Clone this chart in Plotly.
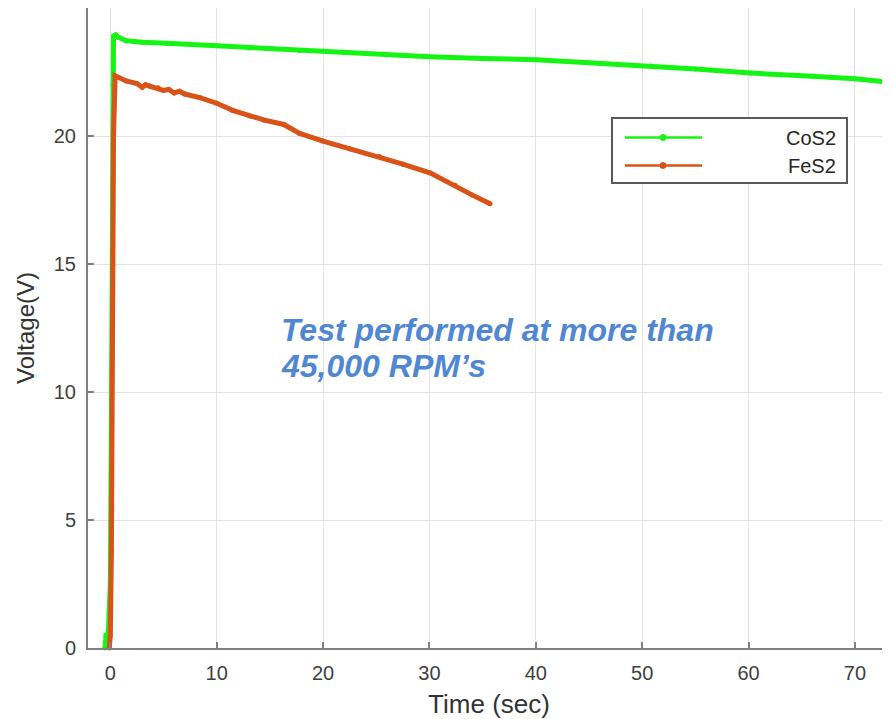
import plotly.graph_objects as go

# ---- data ----
cos2_t = [-0.5, -0.4, -0.2, 0.0, 0.1, 0.2, 0.25, 0.3, 0.5, 0.8, 1.5, 3.0, 5.3, 7.5, 10.0,
          13.0, 17.8, 22.0, 26.0, 30.0, 35.0, 40.0, 45.0, 50.8, 55.0, 60.2, 63.0, 66.0,
          70.0, 73.3]
cos2_v = [0.0, 0.5, 0.5, 2.5, 9.0, 16.0, 22.0, 23.9, 23.95, 23.85, 23.72, 23.66, 23.62,
          23.57, 23.53, 23.44, 23.34, 23.25, 23.17, 23.10, 23.03, 22.98, 22.86, 22.73,
          22.62, 22.46, 22.38, 22.33, 22.24, 22.10]

fes2_t = [-0.1, 0.0, 0.1, 0.2, 0.3, 0.45, 0.8, 1.5, 2.5, 3.0, 3.3, 3.7, 4.5, 5.0, 5.5, 6.0,
          6.5, 7.0, 8.4, 10.0, 11.5, 13.1, 14.5, 16.3, 17.8, 20.0, 22.5, 25.3, 27.5,
          30.1, 32.4, 34.0, 35.7]
fes2_v = [0.0, 0.5, 3.8, 12.0, 20.0, 22.35, 22.28, 22.15, 22.05, 21.9, 22.0, 21.95, 21.88,
          21.78, 21.82, 21.68, 21.75, 21.64, 21.5, 21.28, 21.0, 20.78, 20.62, 20.45,
          20.1, 19.8, 19.5, 19.2, 18.9, 18.55, 18.08, 17.7, 17.35]

series_names = ["CoS2", "FeS2"]
series_colors = ["#14F514", "#D95319"]

xticks = [0, 10, 20, 30, 40, 50, 60, 70]
yticks = [0, 5, 10, 15, 20]

FONT = "Arial, Liberation Sans, Helvetica, sans-serif"

fig = go.Figure()
for t, v, name, col in [(cos2_t, cos2_v, series_names[0], series_colors[0]),
                        (fes2_t, fes2_v, series_names[1], series_colors[1])]:
    fig.add_trace(go.Scatter(x=t, y=v, name=name, mode="lines+markers",
                             line=dict(color=col, width=5),
                             marker=dict(color=col, size=5),
                             showlegend=False, cliponaxis=False))

# page has an 8px body margin: figure sits at (8, 8) in the window
OFF = 8
W, H = 890 - OFF, 719 - OFF
# plot-area in page pixels
L, R, T, B = 88, 890, 8, 648
def px(x):
    return (x - L) / (R - L)
def py(y):
    return (B - y) / (B - T)

shapes = [dict(type="rect", xref="paper", yref="paper",
               x0=px(612), x1=px(847), y0=py(183), y1=py(118),
               line=dict(color="#5a5a5a", width=2), fillcolor="white", layer="above")]
annotations = []
for i, (name, col) in enumerate(zip(series_names, series_colors)):
    yy = [137.5, 165.5][i]
    shapes.append(dict(type="line", xref="paper", yref="paper",
                       x0=px(625), x1=px(702), y0=py(yy), y1=py(yy),
                       line=dict(color=col, width=2.5), layer="above"))
    shapes.append(dict(type="circle", xref="paper", yref="paper",
                       x0=px(660), x1=px(666), y0=py(yy + 3), y1=py(yy - 3),
                       line=dict(color=col, width=1), fillcolor=col, layer="above"))
    annotations.append(dict(xref="paper", yref="paper", x=px(838), y=py(yy),
                            xanchor="right", yanchor="middle", text=name,
                            showarrow=False,
                            font=dict(family=FONT, size=20, color="#262626")))

for txt, yy in [("Test performed at more than", 330), ("45,000 RPM’s", 366)]:
    annotations.append(dict(xref="paper", yref="paper", x=px(279), y=py(yy),
                            xanchor="left", yanchor="middle", align="left",
                            text="<b><i>" + txt + "</i></b>",
                            showarrow=False,
                            font=dict(family=FONT, size=32, color="#5087D3")))

fig.update_layout(
    width=W, height=H,
    margin=dict(l=L - OFF, r=0, t=T - OFF, b=719 - B, pad=0),
    paper_bgcolor="white", plot_bgcolor="white",
    shapes=shapes, annotations=annotations,
    font=dict(family=FONT, color="#262626"),
)
fig.update_xaxes(range=[-2.1, 73.3], tickvals=xticks, ticktext=[str(v) for v in xticks],
                 showgrid=True, gridcolor="#E3E3E3", gridwidth=1,
                 showline=True, linecolor="#808080", linewidth=2,
                 ticks="inside", ticklen=6, tickcolor="#808080", tickwidth=2,
                 zeroline=False, tickfont=dict(size=20, color="#404040"),
                 ticklabelstandoff=6, automargin=False,
                 title=dict(text="Time (sec)", font=dict(size=26, color="#333333"), standoff=12))
fig.update_yaxes(range=[0, 25], tickvals=yticks, ticktext=[str(v) for v in yticks],
                 showgrid=True, gridcolor="#E3E3E3", gridwidth=1,
                 showline=True, linecolor="#808080", linewidth=2,
                 ticks="inside", ticklen=6, tickcolor="#808080", tickwidth=2,
                 zeroline=False, tickfont=dict(size=20, color="#404040"),
                 ticklabelstandoff=6, automargin=False,
                 title=dict(text="Voltage(V)", font=dict(size=24, color="#333333"), standoff=12))

fig.write_html("out.html")
